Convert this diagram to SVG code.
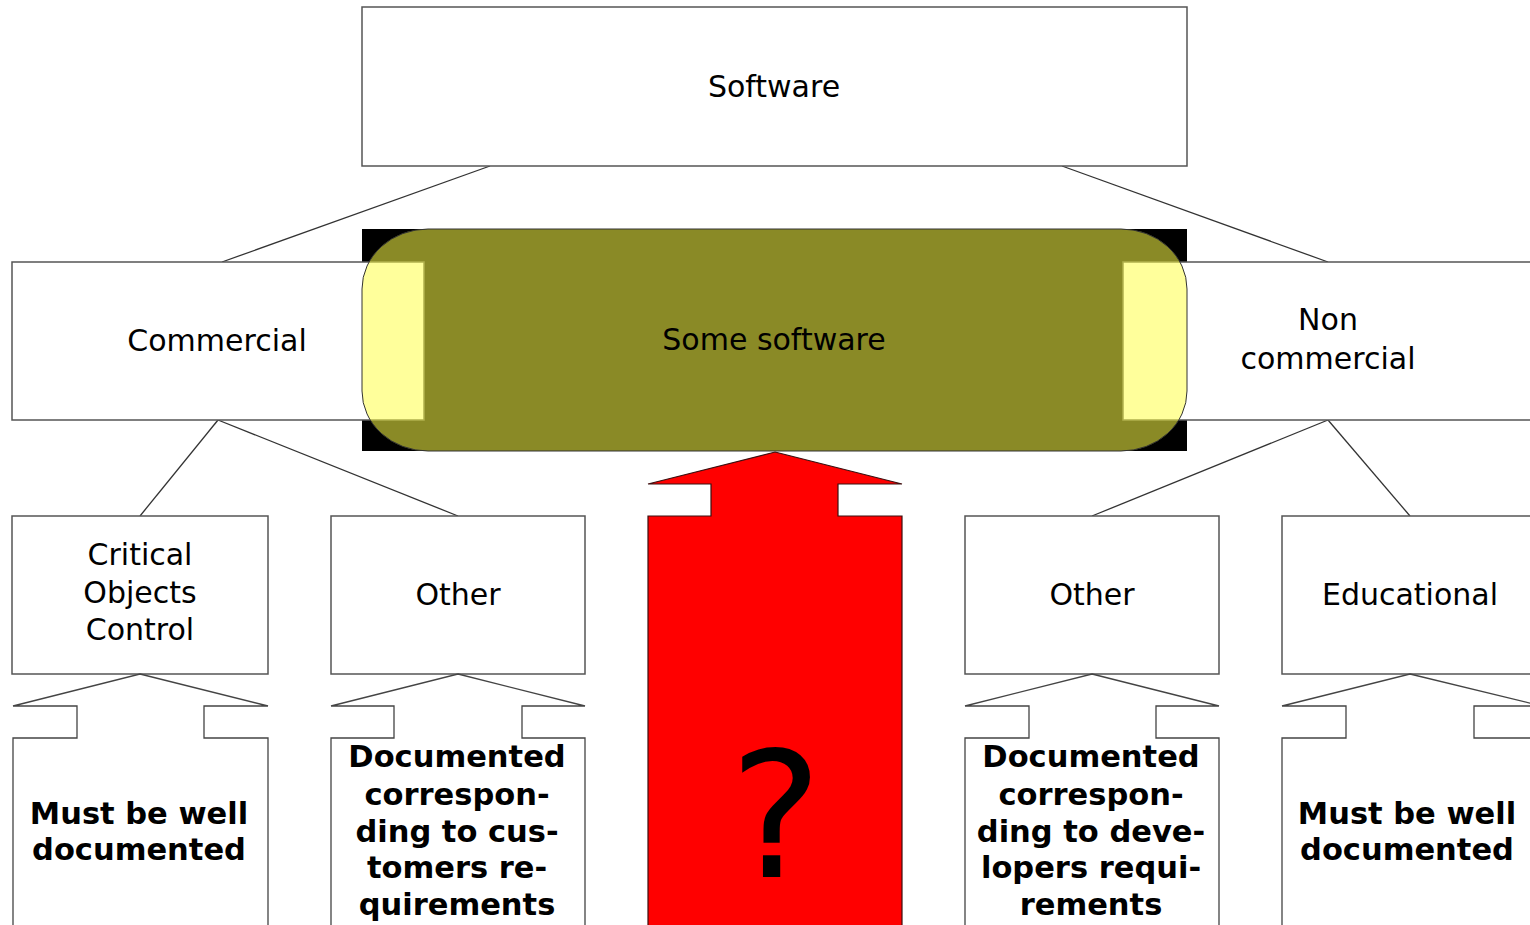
<svg xmlns="http://www.w3.org/2000/svg" width="1530" height="925" viewBox="0 0 1530 925">
  <defs>
    <style>
      .box { fill: #ffffff; stroke: #555555; stroke-width: 1.5; }
      .link { fill: none; stroke: #333333; stroke-width: 1.3; }
      .arrow { fill: #ffffff; stroke: #444444; stroke-width: 1.3; stroke-linejoin: miter; }
      .label { font-family: "DejaVu Sans", Verdana, sans-serif; font-size: 30px; fill: #000000; text-anchor: middle; }
      .bold { font-family: "DejaVu Sans", Verdana, sans-serif; font-size: 30.5px; font-weight: bold; fill: #000000; text-anchor: middle; }
    </style>
  </defs>

  <rect width="1530" height="925" fill="#ffffff"/>

  <!-- connectors -->
  <g id="connectors">
    <line class="link" x1="490" y1="166" x2="222" y2="262"/>
    <line class="link" x1="1062" y1="166" x2="1328" y2="262"/>
    <line class="link" x1="218" y1="420" x2="140" y2="516"/>
    <line class="link" x1="218" y1="420" x2="458" y2="516"/>
    <line class="link" x1="1328" y1="420" x2="1092" y2="516"/>
    <line class="link" x1="1328" y1="420" x2="1410" y2="516"/>
  </g>

  <!-- top level -->
  <g id="software">
    <rect class="box" x="362" y="7" width="825" height="159"/>
    <text class="label" x="774" y="97">Software</text>
  </g>

  <!-- dark backing of the overlap band -->
  <rect id="overlap-back" x="362" y="229" width="825" height="222" fill="#000000"/>

  <g id="commercial">
    <rect class="box" x="12" y="262" width="412" height="158"/>
    <text class="label" x="217" y="351">Commercial</text>
  </g>

  <g id="noncommercial">
    <rect class="box" x="1123" y="262" width="420" height="158"/>
    <text class="label" x="1328" y="330">Non</text>
    <text class="label" x="1328" y="369">commercial</text>
  </g>

  <!-- shared band: half-transparent yellow, olive over black and pale over white -->
  <g id="some-software">
    <rect x="362" y="229" width="825" height="222" rx="66" ry="60" fill="#ffff46" fill-opacity="0.54" stroke="#333333" stroke-width="1"/>
    <text class="label" x="774" y="350">Some software</text>
  </g>

  <!-- third level -->
  <g id="critical">
    <rect class="box" x="12" y="516" width="256" height="158"/>
    <text class="label" x="140" y="565">Critical</text>
    <text class="label" x="140" y="603">Objects</text>
    <text class="label" x="140" y="640">Control</text>
  </g>
  <g id="other-commercial">
    <rect class="box" x="331" y="516" width="254" height="158"/>
    <text class="label" x="458" y="605">Other</text>
  </g>
  <g id="other-noncommercial">
    <rect class="box" x="965" y="516" width="254" height="158"/>
    <text class="label" x="1092" y="605">Other</text>
  </g>
  <g id="educational">
    <rect class="box" x="1282" y="516" width="260" height="158"/>
    <text class="label" x="1410" y="605">Educational</text>
  </g>

  <!-- requirement arrows -->
  <g id="req-critical">
    <polygon class="arrow" points="140,674 268,706 204,706 204,738 268,738 268,930 13,930 13,738 77,738 77,706 13,706"/>
    <text class="bold" x="139" y="824">Must be well</text>
    <text class="bold" x="139" y="860">documented</text>
  </g>
  <g id="req-customers">
    <polygon class="arrow" points="458,674 585,706 522,706 522,738 585,738 585,930 331,930 331,738 394,738 394,706 331,706"/>
    <text class="bold" x="457" y="767">Documented</text>
    <text class="bold" x="457" y="805">correspon-</text>
    <text class="bold" x="457" y="842">ding to cus-</text>
    <text class="bold" x="457" y="878">tomers re-</text>
    <text class="bold" x="457" y="915">quirements</text>
  </g>
  <g id="req-unknown">
    <polygon points="775,452 902,484 838,484 838,516 902,516 902,930 648,930 648,516 711,516 711,484 648,484" fill="#ff0000" stroke="#3a1010" stroke-width="1.2"/>
    <text x="776" y="877" font-family="DejaVu Sans, Verdana, sans-serif" font-size="174" fill="#000000" text-anchor="middle">?</text>
  </g>
  <g id="req-developers">
    <polygon class="arrow" points="1092,674 1219,706 1156,706 1156,738 1219,738 1219,930 965,930 965,738 1029,738 1029,706 965,706"/>
    <text class="bold" x="1091" y="767">Documented</text>
    <text class="bold" x="1091" y="805">correspon-</text>
    <text class="bold" x="1091" y="842">ding to deve-</text>
    <text class="bold" x="1091" y="878">lopers requi-</text>
    <text class="bold" x="1091" y="915">rements</text>
  </g>
  <g id="req-educational">
    <polygon class="arrow" points="1410,674 1542,706 1474,706 1474,738 1542,738 1542,930 1282,930 1282,738 1346,738 1346,706 1282,706"/>
    <text class="bold" x="1407" y="824">Must be well</text>
    <text class="bold" x="1407" y="860">documented</text>
  </g>
</svg>
